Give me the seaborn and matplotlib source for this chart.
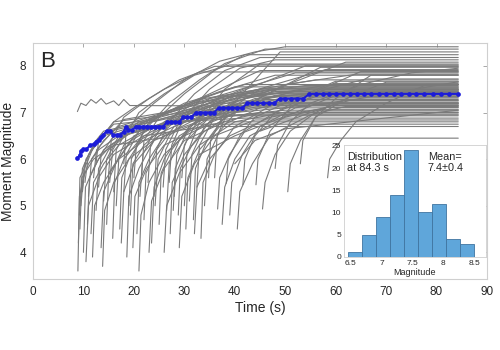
import pandas as pd
import seaborn as sns
import matplotlib.pyplot as plt

# time at which every run is held flat to the end
T_END = 84.3

# gray runs: (time s, magnitude) break points
gray_runs = [
    [(8.8, 7.02), (9.5, 7.2), (10.5, 7.15), (11.5, 7.28), (12.5, 7.2), (13.5, 7.3), (14.5, 7.18),
     (16, 7.25), (17, 7.15), (18, 7.28), (19.2, 7.15), (40, 7.14)],
    [(8.9, 3.6), (9.2, 5.2), (10, 5.6), (11, 5.9), (13, 6.2), (17, 6.5), (30, 6.8), (45, 7.0)],
    [(9.0, 4.2), (9.3, 5.6), (11, 6.0), (12.5, 6.4), (14, 6.6), (22, 6.8), (35, 7.2)],
    [(9.2, 4.8), (9.8, 5.8), (11.5, 6.2), (14, 6.5), (20, 6.7), (40, 7.3), (55, 7.5)],
    [(9.5, 5.0), (10.2, 5.9), (12, 6.3), (15, 6.6), (28, 6.9), (50, 7.4)],
    [(9.8, 5.3), (10.5, 6.0), (13, 6.4), (16, 6.75), (25, 6.85), (48, 7.45)],
    [(10.0, 4.0), (10.4, 5.4), (12, 5.8), (14, 6.2), (18, 6.5), (30, 6.9), (60, 7.2)],
    [(10.3, 5.5), (11, 6.1), (14, 6.5), (16, 6.8), (30, 7.0), (44, 7.6)],
    [(10.8, 4.6), (11.2, 5.6), (13, 6.0), (15.5, 6.3), (20, 6.6), (38, 7.1)],
    [(11.0, 5.2), (11.6, 6.0), (14, 6.4), (17, 6.7), (35, 7.3), (52, 7.85)],
    [(11.5, 4.4), (12, 5.5), (14, 5.9), (17, 6.3), (22, 6.6), (32, 6.95)],
    [(12.0, 5.6), (12.6, 6.2), (15, 6.5), (18, 6.85), (26, 7.0), (40, 7.55)],
    [(12.5, 4.9), (13, 5.8), (15, 6.2), (19, 6.55), (28, 6.8), (42, 6.88)],
    [(13.0, 5.4), (13.5, 6.1), (16, 6.5), (20, 6.7), (34, 7.3), (56, 7.7)],
    [(13.5, 4.1), (14, 5.3), (16, 5.8), (18, 6.3), (24, 6.7), (36, 7.25)],
    [(14.0, 5.1), (14.6, 6.0), (17, 6.5), (21, 6.8), (33, 7.2), (47, 7.5)],
    [(14.6, 4.6), (15, 5.7), (17.5, 6.1), (20, 6.5), (29, 6.9), (41, 7.4)],
    [(15.2, 5.5), (15.8, 6.2), (18, 6.6), (24, 6.9), (38, 7.35)],
    [(15.8, 4.3), (16.2, 5.5), (18, 6.0), (21, 6.4), (28, 6.8), (50, 7.05)],
    [(16.5, 5.0), (17, 6.0), (19.5, 6.4), (23, 6.85), (31, 7.2), (45, 7.9)],
    [(17.2, 4.5), (17.6, 5.6), (19, 6.0), (22, 6.5), (27, 6.8), (40, 7.15)],
    [(18.0, 5.3), (18.5, 6.1), (21, 6.6), (26, 7.0), (37, 7.45), (48, 7.8)],
    [(18.6, 3.9), (19, 5.2), (21, 5.8), (24, 6.4), (29, 6.9), (43, 7.42)],
    [(19.3, 4.8), (19.8, 5.9), (22, 6.3), (26, 6.7), (34, 7.05), (46, 7.28)],
    [(20.0, 5.6), (20.5, 6.3), (23, 6.8), (30, 7.2), (42, 7.6)],
    [(20.6, 4.4), (21, 5.5), (23, 6.0), (26, 6.5), (33, 6.9), (52, 7.46)],
    [(21.2, 5.2), (21.8, 6.1), (24, 6.6), (29, 7.0), (40, 7.35), (58, 7.92)],
    [(22.0, 4.7), (22.4, 5.7), (24.5, 6.2), (28, 6.7), (35, 7.0), (46, 7.22)],
    [(22.8, 5.5), (23.3, 6.3), (26, 6.8), (32, 7.2), (45, 7.48)],
    [(23.5, 4.2), (24, 5.4), (26, 6.0), (29, 6.5), (36, 6.95), (50, 7.33)],
    [(24.2, 5.0), (24.8, 6.0), (27, 6.5), (31, 6.9), (40, 7.4), (54, 8.0)],
    [(25.0, 4.6), (25.4, 5.7), (27.5, 6.2), (31, 6.7), (38, 7.1), (47, 7.18)],
    [(25.8, 5.4), (26.3, 6.2), (29, 6.8), (35, 7.3), (46, 7.52)],
    [(26.5, 4.9), (27, 5.9), (29, 6.4), (33, 6.9), (42, 7.3), (60, 7.62)],
    [(27.2, 4.4), (27.6, 5.5), (30, 6.1), (34, 6.6), (40, 7.0), (48, 7.37)],
    [(28.0, 5.2), (28.5, 6.1), (31, 6.7), (37, 7.2), (50, 7.55)],
    [(28.8, 4.8), (29.2, 5.8), (31.5, 6.3), (35, 6.8), (43, 7.2), (57, 7.97)],
    [(29.5, 5.6), (30, 6.3), (33, 6.9), (40, 7.35), (52, 7.44)],
    [(30.3, 4.5), (30.7, 5.6), (33, 6.2), (37, 6.7), (45, 7.1), (55, 7.31)],
    [(31.0, 5.1), (31.5, 6.1), (34, 6.7), (39, 7.2), (48, 7.5), (62, 8.08)],
    [(31.8, 4.7), (32.2, 5.8), (34.5, 6.4), (38, 6.9), (46, 7.3), (53, 7.39)],
    [(32.5, 5.4), (33, 6.3), (36, 6.9), (42, 7.4), (54, 7.58)],
    [(33.3, 4.3), (33.7, 5.5), (36, 6.1), (40, 6.7), (48, 7.2), (58, 7.49)],
    [(34.0, 5.0), (34.5, 6.0), (37, 6.6), (41, 7.1), (50, 7.6), (64, 7.82)],
    [(34.8, 5.6), (35.2, 6.4), (38, 7.0), (45, 7.5), (56, 7.53)],
    [(16.0, 5.3), (16.5, 6.2), (19, 6.7), (24, 7.2), (30, 7.7), (37, 8.1), (44, 8.3), (50, 8.41)],
    [(19.0, 5.0), (19.5, 6.0), (22, 6.6), (27, 7.2), (33, 7.7), (38, 8.05), (46, 8.36)],
    [(21.5, 5.6), (22, 6.4), (25, 6.9), (30, 7.4), (36, 7.9), (42, 8.24)],
    [(24.0, 5.2), (24.5, 6.2), (27, 6.8), (32, 7.4), (38, 7.9), (45, 8.18)],
    [(27.0, 5.5), (27.5, 6.3), (30, 6.9), (35, 7.5), (41, 7.95), (48, 8.13)],
    [(30.0, 5.0), (30.5, 6.1), (33, 6.8), (38, 7.5), (45, 8.04)],
    [(36.0, 5.6), (36.5, 6.5), (39, 7.1), (44, 7.7), (49, 8.3)],
    [(12.5, 5.9), (13, 6.4), (16, 6.8), (20, 7.1), (26, 7.5), (33, 7.87)],
    [(15.0, 5.7), (15.5, 6.4), (18, 6.9), (23, 7.3), (29, 7.7), (36, 7.99)],
    [(18.0, 5.9), (18.4, 6.5), (21, 7.0), (26, 7.4), (32, 7.8), (39, 8.02)],
    [(36.6, 4.93), (37, 5.6), (39, 6.1), (42, 6.6), (48, 7.0), (58, 7.43)],
    [(38.3, 5.48), (38.7, 6.0), (41, 6.5), (44, 6.9), (52, 7.3), (60, 7.67)],
    [(39.0, 4.8), (39.4, 5.5), (41.5, 6.1), (45, 6.7), (52, 7.1), (62, 7.26)],
    [(41.6, 5.45), (42, 6.0), (44, 6.5), (48, 7.0), (55, 7.4), (65, 7.88)],
    [(44.2, 5.45), (44.6, 6.0), (47, 6.6), (51, 7.1), (58, 7.5), (66, 7.72)],
    [(45.5, 4.93), (46, 5.5), (48, 6.1), (51, 6.6), (56, 7.0), (63, 7.34)],
    [(48.0, 5.8), (48.5, 6.3), (51, 6.8), (55, 7.2), (62, 7.48)],
    [(50.5, 5.3), (51, 5.9), (53, 6.4), (56, 6.9), (63, 7.35), (70, 7.65)],
    [(53.0, 5.9), (53.5, 6.4), (56, 6.9), (60, 7.3), (67, 7.8)],
    [(58.4, 5.6), (58.8, 6.0), (61, 6.4), (64, 6.8), (70, 7.2), (78, 7.6)],
    [(40.0, 5.9), (44, 6.4), (50, 6.65), (84.3, 7.05)],
    [(45.0, 6.6), (55, 7.0), (62.7, 7.26), (84.3, 7.66)],
    [(33.0, 6.1), (40, 6.5), (52, 7.0), (65, 7.6), (75, 7.85), (84.3, 7.95)],
    [(9.3, 4.5), (9.7, 5.6), (12, 6.0), (16, 6.3), (25, 6.45)],
    [(10.5, 3.8), (11, 5.0), (13, 5.6), (16, 6.1), (22, 6.5), (34, 6.7)],
    [(17.5, 4.2), (18, 5.3), (20, 5.9), (24, 6.4), (32, 6.75)],
    [(23.0, 4.0), (23.5, 5.1), (26, 5.8), (30, 6.4), (38, 6.8)],
    [(29.0, 4.1), (29.5, 5.2), (32, 5.9), (36, 6.5), (44, 6.84)],
    [(13.8, 3.7), (14.2, 4.9), (16, 5.5), (19, 6.0), (25, 6.5), (36, 6.93)],
    [(19.8, 4.1), (20.2, 5.2), (22.5, 5.8), (26, 6.3), (34, 6.7), (44, 6.97)],
    [(26.0, 4.0), (26.5, 5.0), (29, 5.7), (33, 6.3), (40, 6.8), (50, 7.01)],
    [(32.0, 4.4), (32.5, 5.4), (35, 6.0), (39, 6.5), (47, 6.9), (56, 7.06)],
    [(37.5, 4.6), (38, 5.4), (40, 6.0), (43, 6.5), (50, 6.9), (58, 7.11)],
    [(40.5, 4.5), (41, 5.3), (43.5, 5.9), (47, 6.5), (55, 6.95), (62, 7.13)],
    [(21.0, 3.6), (21.4, 4.8), (23, 5.5), (26, 6.1), (31, 6.6), (40, 7.0), (50, 7.2)],
    [(11.8, 3.9), (12.2, 5.0), (14, 5.5), (17, 6.0), (22, 6.4), (30, 6.8), (46, 7.16)],
    [(27.8, 4.9), (28.2, 5.8), (30.5, 6.4), (35, 6.9), (44, 7.3), (54, 7.4)],
]

# blue mean curve
mean_time = [8.8, 9.3, 9.5, 10.0, 10.6, 11.3, 12.0, 12.5, 13.0, 13.4, 13.9, 14.6, 15.2, 15.9,
             16.6, 17.2, 18.0, 18.4, 18.9, 19.6, 20.4, 21.1, 21.9, 22.6, 23.4, 24.2, 25.0, 25.8,
             26.6, 27.4, 28.2, 29.0, 29.8, 30.6, 31.4, 32.3, 33.2, 34.1, 35.0, 35.9, 36.8, 37.7,
             38.6, 39.5, 40.5, 41.5, 42.5, 43.5, 44.5, 45.6, 46.7, 47.8, 48.9, 50.0, 51.2, 52.4,
             53.6, 54.8, 56.1, 57.4, 58.7, 60.0, 61.4, 62.8, 64.2, 65.6, 67.0, 68.5, 70.0, 71.5,
             73.0, 74.5, 76.0, 77.6, 79.2, 80.8, 82.4, 84.3]
mean_mag = [6.02, 6.09, 6.18, 6.21, 6.21, 6.30, 6.32, 6.37, 6.42, 6.47, 6.52, 6.60, 6.60, 6.52,
            6.52, 6.52, 6.59, 6.70, 6.62, 6.62, 6.70, 6.70, 6.70, 6.70, 6.70, 6.70, 6.70, 6.70,
            6.80, 6.80, 6.80, 6.80, 6.90, 6.90, 6.90, 7.00, 7.00, 7.00, 7.00, 7.00, 7.10, 7.10,
            7.10, 7.10, 7.10, 7.10, 7.20, 7.20, 7.20, 7.20, 7.20, 7.20, 7.30, 7.30, 7.30, 7.30,
            7.30, 7.40, 7.40, 7.40, 7.40, 7.40, 7.40, 7.40, 7.40, 7.40, 7.40, 7.40, 7.40, 7.40,
            7.40, 7.40, 7.40, 7.40, 7.40, 7.40, 7.40, 7.40]

# inset histogram of final magnitudes
hist_edges = [6.45, 6.68, 6.91, 7.14, 7.36, 7.59, 7.82, 8.05, 8.27, 8.50]
hist_counts = [1, 5, 9, 14, 24, 10, 12, 4, 3]

rows = []
for i, pts in enumerate(gray_runs):
    if pts[-1][0] < T_END:
        pts = pts + [(T_END, pts[-1][1])]
    for t, m in pts:
        rows.append((i, t, m))
df = pd.DataFrame(rows, columns=['run', 'time', 'mag'])

sns.set_theme(style='white')
plt.rcParams['font.family'] = ['Liberation Sans', 'DejaVu Sans']

fig = plt.figure(figsize=(5, 3.5), dpi=100)
ax = fig.add_axes([0.066, 0.203, 0.908, 0.674])

sns.lineplot(data=df, x='time', y='mag', units='run', estimator=None, color='#7a7a7a',
             linewidth=0.8, legend=False, ax=ax)
sns.lineplot(x=mean_time, y=mean_mag, color='#1c1cd8', linewidth=1.5, marker='o',
             markersize=3.4, markeredgewidth=0, ax=ax)

ax.set_xlim(0, 90)
ax.set_ylim(3.43, 8.49)
ax.set_xticks(range(0, 91, 10))
ax.set_yticks([4, 5, 6, 7, 8])
ax.tick_params(direction='in', top=True, right=True, length=3, width=0.6, color='#9a9a9a',
               labelsize=8.5, labelcolor='#262626', pad=5)
for s in ax.spines.values():
    s.set_color('#cfcfcf')
    s.set_linewidth(0.8)
ax.set_xlabel('Time (s)', fontsize=10, color='#262626', labelpad=2)
ax.set_ylabel('Moment Magnitude', fontsize=10, color='#262626', labelpad=3)
ax.text(0.015, 0.965, 'B', transform=ax.transAxes, fontsize=16, va='top', ha='left')

# inset
ins = fig.add_axes([0.688, 0.266, 0.284, 0.32])
centers = [(a + b) / 2 for a, b in zip(hist_edges[:-1], hist_edges[1:])]
sns.histplot(x=centers, weights=hist_counts, bins=hist_edges, color='#5fa6da',
             edgecolor='#3f74a0', linewidth=0.6, alpha=1, ax=ins)
ins.set_xlim(6.39, 8.69)
ins.set_ylim(0, 25.2)
ins.set_xticks([6.5, 7, 7.5, 8, 8.5])
ins.set_xticklabels(['6.5', '7', '7.5', '8', '8.5'])
ins.set_yticks([0, 5, 10, 15, 20, 25])
ins.tick_params(direction='in', length=2, width=0.5, color='#9a9a9a', labelsize=6,
                labelcolor='#262626', pad=2)
for s in ins.spines.values():
    s.set_color('#cfcfcf')
    s.set_linewidth(0.6)
ins.set_xlabel('Magnitude', fontsize=6.5, color='#262626', labelpad=1)
ins.set_ylabel('')
ins.text(0.02, 0.94, 'Distribution\nat 84.3 s', transform=ins.transAxes, fontsize=7.8,
         va='top', ha='left', linespacing=1.15)
ins.text(0.59, 0.94, 'Mean=\n7.4\u00b10.4', transform=ins.transAxes, fontsize=7.8,
         va='top', ha='left', linespacing=1.15)

fig.savefig('out.png', dpi=100)
